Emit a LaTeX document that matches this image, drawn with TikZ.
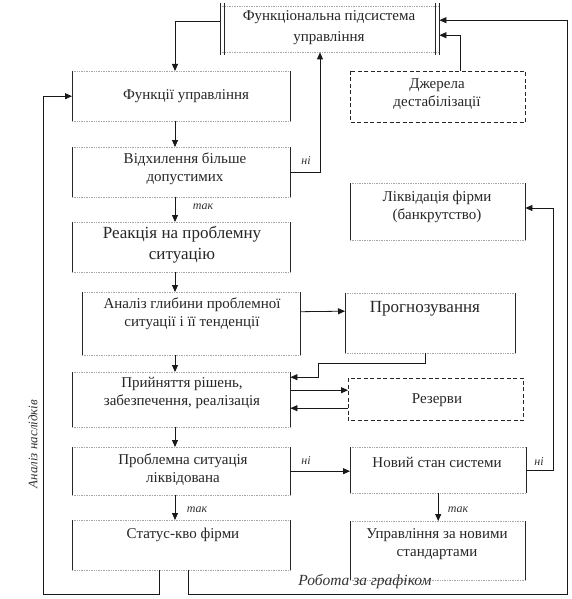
\documentclass[tikz,border=0pt]{standalone}
\usepackage{fontspec}
\setmainfont{Liberation Serif}
\usetikzlibrary{arrows.meta,calc}
\begin{document}
\begin{tikzpicture}[x=1pt,y=-1pt,
  box/.style={draw=none, inner sep=0pt, anchor=north west},
  txt/.style={font=\fontsize{15}{18}\selectfont, align=center, text=black!85},
  bigtxt/.style={font=\fontsize{17}{21}\selectfont, align=center, text=black!85},
  lab/.style={font=\itshape\fontsize{12}{14}\selectfont, text=black!80},
  hl/.style={draw=black!35, densely dotted, line width=0.7pt},
  vl/.style={draw=black!85, line width=0.9pt},
  dbox/.style={draw=black!85, line width=0.9pt, dash pattern=on 4pt off 2.5pt},
  arr/.style={draw=black!90, line width=0.8pt, -{Triangle[length=7pt,width=6pt]}},
]
\path[use as bounding box, fill=white] (0,0) rectangle (572,599);

% boxes
\node[box, minimum width=219pt, minimum height=46pt] (F) at (220,6) {};
\node[box, minimum width=218pt, minimum height=50pt] (A) at (72,71) {};
\node[box, minimum width=218pt, minimum height=50pt] (B) at (72,147) {};
\node[box, minimum width=218pt, minimum height=50pt] (C) at (72,222) {};
\node[box, minimum width=218pt, minimum height=63pt] (D) at (82,292) {};
\node[box, minimum width=218pt, minimum height=55pt] (E) at (72,372) {};
\node[box, minimum width=218pt, minimum height=48pt] (G) at (72,447) {};
\node[box, minimum width=218pt, minimum height=50pt] (H) at (72,520) {};
\node[box, minimum width=175pt, minimum height=51pt] (J) at (350,71) {};
\node[box, minimum width=175pt, minimum height=57pt] (L) at (350,183) {};
\node[box, minimum width=170pt, minimum height=60pt] (P) at (345,293) {};
\node[box, minimum width=175pt, minimum height=42pt] (R) at (348,378) {};
\node[box, minimum width=176pt, minimum height=46pt] (N) at (350,447) {};
\node[box, minimum width=175pt, minimum height=59pt] (U) at (350,521) {};

% plain boxes: faint top/bottom, solid sides
\foreach \n in {A,B,C,D,E,G,H,L,P,N,U} {
  \draw[hl] (\n.north west) -- (\n.north east) (\n.south west) -- (\n.south east);
  \draw[vl] (\n.north west) -- (\n.south west) (\n.north east) -- (\n.south east);
}
% dashed boxes
\foreach \n in {J,R} {
  \draw[dbox] (\n.north west) rectangle (\n.south east);
}
% top box with double sides
\draw[hl] (F.north west) -- (F.north east) (F.south west) -- (F.south east);
\draw[vl] ([yshift=3pt]F.north west) -- ([yshift=-3pt]F.south west);
\draw[vl] ([xshift=4pt,yshift=3pt]F.north west) -- ([xshift=4pt,yshift=-3pt]F.south west);
\draw[vl] ([yshift=3pt]F.north east) -- ([yshift=-3pt]F.south east);
\draw[vl] ([xshift=-4pt,yshift=3pt]F.north east) -- ([xshift=-4pt,yshift=-3pt]F.south east);

% texts
\node[txt, font=\fontsize{15}{21}\selectfont] (Ft) at (329,27.5) {Функціональна підсистема\\управління};
\node[txt] (At) at (186,96) {Функції управління};
\node[txt] (Bt) at (185,169) {Відхилення більше\\допустимих};
\node[bigtxt] (Ct) at (182,245) {Реакція на проблемну\\ситуацію};
\node[txt] (Dt) at (192,314) {Аналіз глибини проблемної\\ситуації і її тенденції};
\node[txt] (Et) at (182,393) {Прийняття рішень,\\забезпечення, реалізація};
\node[txt] (Gt) at (183,470) {Проблемна ситуація\\ліквідована};
\node[txt] (Ht) at (183,535) {Статус-кво фірми};
\node[txt] (Jt) at (437,94) {Джерела\\дестабілізації};
\node[txt] (Lt) at (437,207) {Ліквідація фірми\\(банкрутство)};
\node[bigtxt] (Pt) at (425,309) {Прогнозування};
\node[txt] (Rt) at (437,400) {Резерви};
\node[txt] (Nt) at (437,462) {Новий стан системи};
\node[txt] (Ut) at (437,544) {Управління за новими\\стандартами};

% helper coordinates
\coordinate (spine) at (175,0);
\coordinate (c3) at (320,0);
\coordinate (c8) at (318,363);
\coordinate (c13) at (553,208);
\coordinate (lb) at (159,594);
\coordinate (lc) at (43,594);
\coordinate (rb) at (188,594);
\coordinate (rc) at (567,594);
\coordinate (jx) at (460,0);

% connectors
\draw[arr] ([yshift=8pt]F.west) -| (A.north -| spine);
\draw[arr] (A.south -| spine) -- (B.north -| spine);
\draw[arr] (B.east) -| (F.south -| c3);
\draw[arr] (B.south -| spine) -- (C.north -| spine);
\draw[arr] (C.south -| spine) -- (D.north -| spine);
\draw[arr] ([yshift=12pt]D.east) -- ([yshift=12pt]P.west);
\draw[arr] (D.south -| spine) -- (E.north -| spine);
\draw[arr] ([xshift=-5pt]P.south) |- (c8) |- ([yshift=22.5pt]E.east);
\draw[arr] ([yshift=9.5pt]E.east) -- ([yshift=9pt]R.west);
\draw[arr] ([yshift=-9pt]R.west) -- ([yshift=-8.5pt]E.east);
\draw[arr] (E.south -| spine) -- (G.north -| spine);
\draw[arr] (G.east) -- (G.east -| N.west);
\draw[arr] (G.south -| spine) -- (H.north -| spine);
\draw[arr] (N.east) -| (c13) -- (c13 -| L.east);
\draw[arr] (N.south) -- (N.south |- U.north);
\draw[arr] (H.south -| lb) -- (lb) -- (lc) |- (A.west);
\draw[arr] (H.south -| rb) -- (rb) -- (rc) |- ([yshift=9pt]F.east);
\draw[arr] (J.north -| jx) |- ([yshift=-6pt]F.east);

% labels
\node[lab] (l1) at (306,161) {ні};
\node[lab] (l2) at (203,207) {так};
\node[lab] (l3) at (306,461) {ні};
\node[lab] (l4) at (197,510) {так};
\node[lab] (l5) at (539,462) {ні};
\node[lab] (l6) at (458,510) {так};
\node[lab, font=\itshape\fontsize{15.5}{18}\selectfont] (l7) at (365,582) {Робота за графіком};
\node[lab, font=\itshape\fontsize{13}{16}\selectfont, rotate=90] (l8) at (33,444) {Аналіз наслідків};
\end{tikzpicture}
\end{document}
